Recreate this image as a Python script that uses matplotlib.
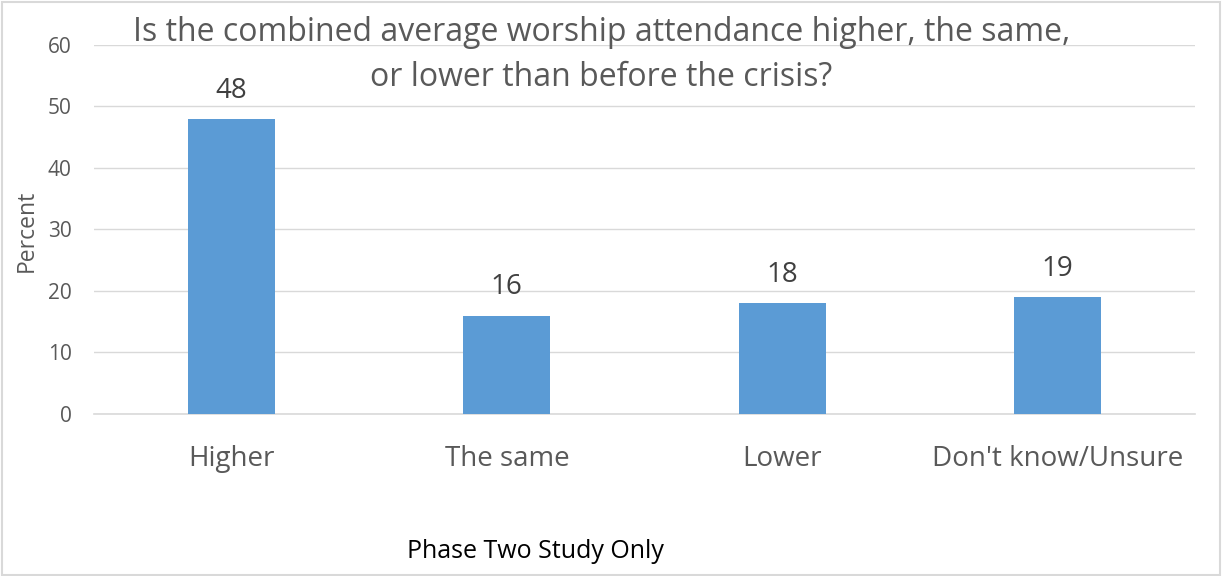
import matplotlib
matplotlib.use("Agg")
import matplotlib.pyplot as plt
from matplotlib.patches import Rectangle

categories = ["Higher", "The same", "Lower", "Don't know/Unsure"]
percent = [48, 16, 18, 19]
yticks = [0, 10, 20, 30, 40, 50, 60]

title_lines = ["Is the combined average worship attendance higher, the same,",
               "or lower than before the crisis?"]
note = "Phase Two Study Only"

plt.rcParams["font.family"] = ["Open Sans", "DejaVu Sans"]
grey = "#595959"
bar_color = "#5B9BD5"

fig = plt.figure(figsize=(12.22, 5.76), dpi=100)
ax = fig.add_axes([0.0769, 0.2813, 0.901, 0.6406])

x = list(range(len(categories)))
bars = ax.bar(x, percent, width=0.316, color=bar_color, zorder=3)
for xi, v in zip(x, percent):
    ax.text(xi, v + 2.3, str(v), ha="center", va="bottom", fontsize=20, color="#404040")

ax.set_xlim(-0.5, 3.5)
ax.set_ylim(0, 60)
ax.set_yticks(yticks)
ax.set_xticks(x)
ax.set_xticklabels(categories, fontsize=20, color=grey)
ax.tick_params(axis="y", labelsize=15, labelcolor=grey, length=0, pad=16)
ax.tick_params(axis="x", length=0, pad=22)
ax.grid(axis="y", color="#D9D9D9", linewidth=1, zorder=0)
for s in ["top", "right", "left"]:
    ax.spines[s].set_visible(False)
ax.spines["bottom"].set_color("#D9D9D9")
ax.spines["bottom"].set_linewidth(1.2)

# Two-line chart title, each line placed on its own
fig.text(0.492, 0.943, title_lines[0], ha="center", va="center", fontsize=23, color=grey)
fig.text(0.492, 0.865, title_lines[1], ha="center", va="center", fontsize=23, color=grey)
fig.text(0.022, 0.60, "Percent", rotation=90, ha="center", va="center", fontsize=16.5, color=grey)
fig.text(0.438, 0.043, note, ha="center", va="center", fontsize=18, color="black")

fig.patches.append(Rectangle((0.002, 0.002), 0.996, 0.994, transform=fig.transFigure,
                             fill=False, edgecolor="#D9D9D9", linewidth=1.5))

fig.savefig("out.png", dpi=100)
